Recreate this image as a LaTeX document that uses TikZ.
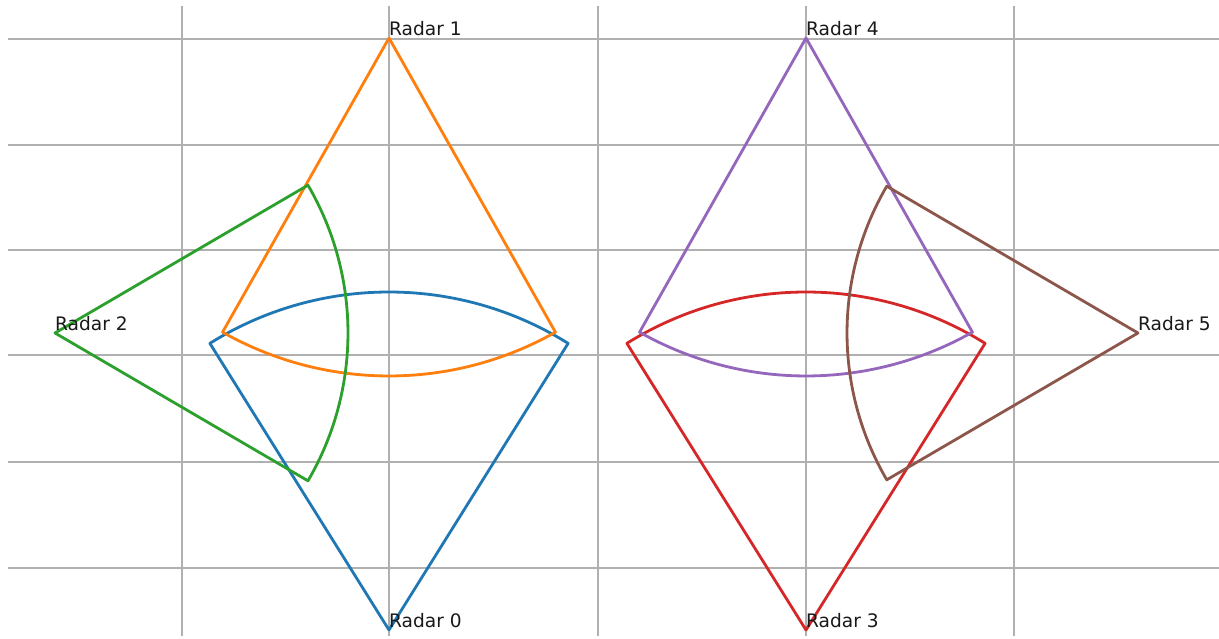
\documentclass[tikz,border=0pt]{standalone}
\usepackage{fontspec}
\setmainfont{DejaVu Sans}
\definecolor{c0}{HTML}{1F77B4}
\definecolor{c1}{HTML}{FF7F0E}
\definecolor{c2}{HTML}{2CA02C}
\definecolor{c3}{HTML}{D62728}
\definecolor{c4}{HTML}{9467BD}
\definecolor{c5}{HTML}{8C564B}
\definecolor{gridgray}{HTML}{B0B0B0}
\begin{document}
\begin{tikzpicture}[x=1pt,y=1pt,
  sector/.style={line width=2.8pt, line join=round, line cap=round},
  gridline/.style={draw=gridgray, line width=1.4pt},
  lbl/.style={anchor=base west, inner sep=0pt, text=black!90,
    font=\fontsize{18.6}{22}\selectfont, yshift=2.5pt}]
\useasboundingbox (0,0) rectangle (1219,638);
% grid
\foreach \gx in {182,389,598,806,1014}
  \draw[gridline] (\gx,2) -- (\gx,632);
\foreach \gy in {599,493,388,283,176,70}
  \draw[gridline] (8,\gy) -- (1219,\gy);
% radar positions
\coordinate (r0) at (389,8);
\coordinate (r1) at (389,600);
\coordinate (r2) at (55,305);
\coordinate (r3) at (806,8);
\coordinate (r4) at (806,600);
\coordinate (r5) at (1138,305);
% sectors
\draw[sector,c0] (r0) -- ++(58:338) arc[start angle=58,end angle=122,radius=338] -- cycle;
\draw[sector,c1] (r1) -- ++(240.5:338) arc[start angle=240.5,end angle=299.5,radius=338] -- cycle;
\draw[sector,c2] (r2) -- ++(-30.3:293) arc[start angle=-30.3,end angle=30.3,radius=293] -- cycle;
\draw[sector,c3] (r3) -- ++(58:338) arc[start angle=58,end angle=122,radius=338] -- cycle;
\draw[sector,c4] (r4) -- ++(240.5:338) arc[start angle=240.5,end angle=299.5,radius=338] -- cycle;
\draw[sector,c5] (r5) -- ++(149.7:291) arc[start angle=149.7,end angle=210.3,radius=291] -- cycle;
% labels
\node[lbl] (l0) at (r0) {Radar 0};
\node[lbl] (l1) at (r1) {Radar 1};
\node[lbl] (l2) at (r2) {Radar 2};
\node[lbl] (l3) at (r3) {Radar 3};
\node[lbl] (l4) at (r4) {Radar 4};
\node[lbl] (l5) at (r5) {Radar 5};
\end{tikzpicture}
\end{document}
